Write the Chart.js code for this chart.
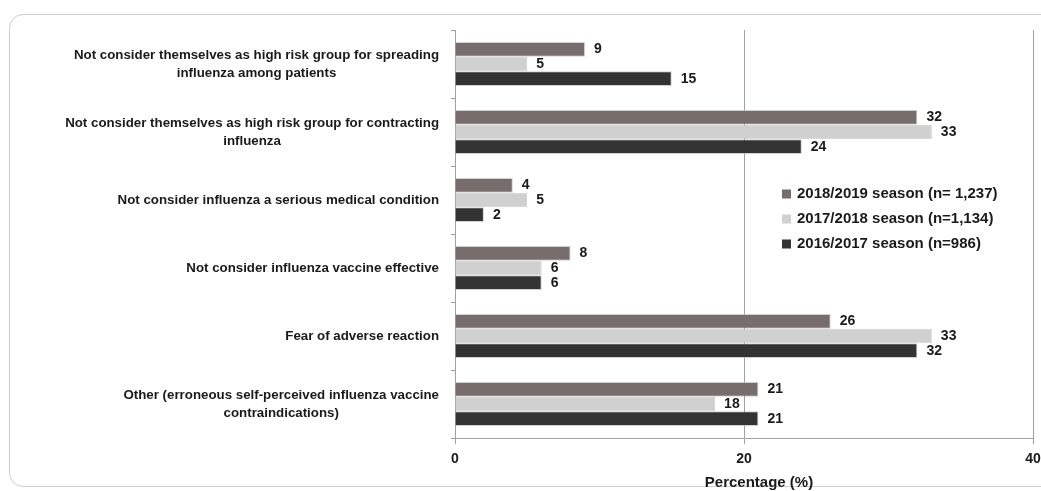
<!DOCTYPE html>
<html>
<head>
<meta charset="utf-8">
<script src="https://cdn.jsdelivr.net/npm/chart.js@4"></script>
<style>
  html, body { margin: 0; padding: 0; background: #fff; }
  #wrap { position: relative; width: 1041px; height: 491px; overflow: hidden; }
  #frame {
    position: absolute; left: 9px; top: 14px; width: 1100px; height: 473px;
    border: 1px solid #cfcfcf; border-radius: 14px; box-sizing: border-box;
  }
  canvas { position: absolute; left: 0; top: 0; }
</style>
</head>
<body>
<div id="wrap">
  <div id="frame"></div>
  <canvas id="chart" width="1041" height="491"></canvas>
</div>
<script>
const reasons = [
  ['Not consider themselves as high risk group for spreading', 'influenza among patients'],
  ['Not consider themselves as high risk group for contracting', 'influenza'],
  ['Not consider influenza a serious medical condition'],
  ['Not consider influenza vaccine effective'],
  ['Fear of adverse reaction'],
  ['Other (erroneous self-perceived influenza vaccine', 'contraindications)']
]
const seasons = [
  '2018/2019 season (n= 1,237)',
  '2017/2018 season (n=1,134)',
  '2016/2017 season (n=986)'
]
const season1819 = [9, 32, 4, 8, 26, 21]
const season1718 = [5, 33, 5, 6, 33, 18]
const season1617 = [15, 24, 2, 6, 32, 21]
const seasonColors = ['#776d6d', '#d0d0d0', '#333333']
const axisTitle = 'Percentage (%)'

const FONT = '"Liberation Sans", Arial, sans-serif'
const INK = '#1a1a1a'

// value labels at the end of each bar
const barLabels = {
  id: 'barLabels',
  afterDatasetsDraw(chart) {
    const ctx = chart.ctx
    ctx.save()
    ctx.font = 'bold 14px ' + FONT
    ctx.fillStyle = INK
    ctx.textAlign = 'left'
    ctx.textBaseline = 'middle'
    chart.data.datasets.forEach((ds, i) => {
      chart.getDatasetMeta(i).data.forEach((bar, j) => {
        ctx.fillText(ds.data[j], bar.x + 9, bar.y)
      })
    })
    ctx.restore()
  }
}

// category labels: right-aligned block, each line centred in it
const reasonLabels = {
  id: 'reasonLabels',
  afterDraw(chart) {
    const ctx = chart.ctx
    const y = chart.scales.y
    const right = chart.chartArea.left - 16
    ctx.save()
    ctx.font = 'bold 13.3px ' + FONT
    ctx.fillStyle = INK
    ctx.textAlign = 'center'
    ctx.textBaseline = 'middle'
    chart.data.labels.forEach((lines, i) => {
      const w = Math.max(...lines.map(l => ctx.measureText(l).width))
      const cy = y.getPixelForValue(i)
      const lh = 18
      lines.forEach((l, k) => {
        ctx.fillText(l, right - w / 2, cy + (k - (lines.length - 1) / 2) * lh)
      })
    })
    ctx.restore()
  }
}

// legend floating inside the plot, and the x axis title
const floatLegend = {
  id: 'floatLegend',
  afterDraw(chart) {
    const ctx = chart.ctx
    const area = chart.chartArea
    const x0 = area.left + 327
    const y0 = 194
    ctx.save()
    ctx.font = 'bold 15px ' + FONT
    ctx.textBaseline = 'middle'
    ctx.textAlign = 'left'
    chart.data.datasets.forEach((ds, i) => {
      const y = y0 + i * 25
      ctx.fillStyle = ds.backgroundColor
      ctx.fillRect(x0, y - 4.5, 9, 9)
      ctx.fillStyle = INK
      ctx.fillText(ds.label, x0 + 15, y)
    })
    ctx.font = 'bold 15px ' + FONT
    ctx.textAlign = 'center'
    ctx.fillText(axisTitle, (area.left + area.right) / 2 + 15, 483)
    ctx.restore()
  }
}

new Chart(document.getElementById('chart'), {
  type: 'bar',
  data: {
    labels: reasons,
    datasets: [
      { label: seasons[0], data: season1819, backgroundColor: seasonColors[0] },
      { label: seasons[1], data: season1718, backgroundColor: seasonColors[1] },
      { label: seasons[2], data: season1617, backgroundColor: seasonColors[2] }
    ]
  },
  options: {
    indexAxis: 'y',
    responsive: false,
    animation: false,
    layout: { padding: { top: 30, right: 8, left: 0, bottom: 0 } },
    datasets: {
      bar: {
        categoryPercentage: 0.65,
        barPercentage: 1.0,
        borderWidth: 1,
        borderColor: 'rgba(190,190,190,0.7)'
      }
    },
    plugins: {
      legend: { display: false },
      tooltip: { enabled: false }
    },
    scales: {
      x: {
        min: 0,
        max: 40,
        ticks: {
          stepSize: 20,
          color: INK,
          font: { family: FONT, size: 14, weight: 'bold' },
          padding: 7
        },
        grid: { color: '#a0a0a0', tickLength: 6, lineWidth: 1 },
        border: { color: '#a0a0a0' },
        afterFit(scale) {
          scale.height = 53
          scale.paddingRight = 0
        }
      },
      y: {
        ticks: { display: false },
        grid: { drawOnChartArea: false, tickLength: 4, color: '#a0a0a0' },
        border: { color: '#a0a0a0' },
        afterFit(scale) { scale.width = 455 }
      }
    }
  },
  plugins: [barLabels, reasonLabels, floatLegend]
})
</script>
</body>
</html>
